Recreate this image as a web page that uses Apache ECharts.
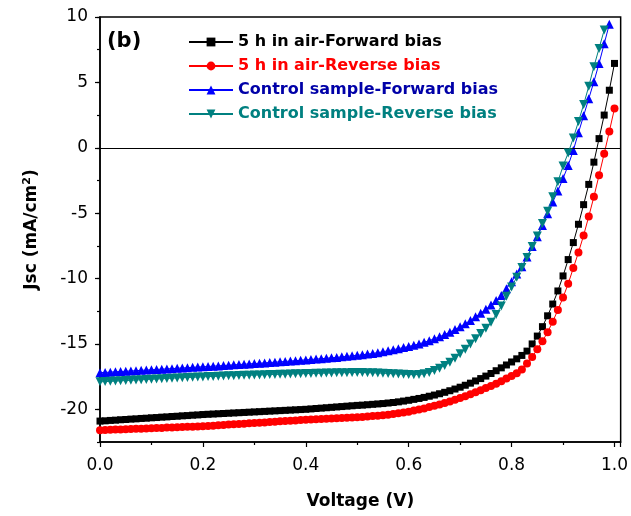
<!DOCTYPE html>
<html><head><meta charset="utf-8">
<script src="https://cdn.jsdelivr.net/npm/echarts@6/dist/echarts.min.js"></script>
<style>html,body{margin:0;padding:0;background:#fff}#c{width:631px;height:516px}</style>
</head><body><div id="c"></div>
<script>
const voltage = [0.00,0.01,0.02,0.03,0.04,0.05,0.06,0.07,0.08,0.09,
0.10,0.11,0.12,0.13,0.14,0.15,0.16,0.17,0.18,0.19,
0.20,0.21,0.22,0.23,0.24,0.25,0.26,0.27,0.28,0.29,
0.30,0.31,0.32,0.33,0.34,0.35,0.36,0.37,0.38,0.39,
0.40,0.41,0.42,0.43,0.44,0.45,0.46,0.47,0.48,0.49,
0.50,0.51,0.52,0.53,0.54,0.55,0.56,0.57,0.58,0.59,
0.60,0.61,0.62,0.63,0.64,0.65,0.66,0.67,0.68,0.69,
0.70,0.71,0.72,0.73,0.74,0.75,0.76,0.77,0.78,0.79,
0.80,0.81,0.82,0.83,0.84,0.85,0.86,0.87,0.88,0.89,
0.90,0.91,0.92,0.93,0.94,0.95,0.96,0.97,0.98,0.99,1.00];

const air5hForward = [-20.90,-20.88,-20.85,-20.83,-20.80,-20.78,-20.75,-20.73,-20.70,-20.68,
-20.65,-20.63,-20.60,-20.58,-20.55,-20.53,-20.50,-20.48,-20.45,-20.43,
-20.40,-20.38,-20.36,-20.34,-20.32,-20.30,-20.28,-20.26,-20.24,-20.22,
-20.20,-20.18,-20.16,-20.14,-20.12,-20.10,-20.08,-20.06,-20.04,-20.02,
-20.00,-19.97,-19.94,-19.91,-19.88,-19.85,-19.82,-19.79,-19.76,-19.73,
-19.70,-19.68,-19.65,-19.62,-19.59,-19.56,-19.52,-19.48,-19.43,-19.37,
-19.31,-19.24,-19.17,-19.09,-19.00,-18.91,-18.81,-18.70,-18.58,-18.45,
-18.31,-18.16,-18.00,-17.83,-17.65,-17.46,-17.26,-17.05,-16.83,-16.61,
-16.38,-16.14,-15.88,-15.55,-15.00,-14.40,-13.68,-12.85,-11.95,-10.95,
-9.80,-8.55,-7.25,-5.85,-4.35,-2.80,-1.10,0.70,2.50,4.40,6.45];

const air5hReverse = [-21.60,-21.58,-21.57,-21.55,-21.54,-21.52,-21.51,-21.49,-21.48,-21.46,
-21.45,-21.43,-21.42,-21.40,-21.39,-21.37,-21.36,-21.34,-21.33,-21.31,
-21.30,-21.27,-21.25,-21.22,-21.20,-21.17,-21.15,-21.12,-21.10,-21.07,
-21.05,-21.02,-21.00,-20.97,-20.95,-20.92,-20.90,-20.87,-20.85,-20.82,
-20.80,-20.78,-20.76,-20.74,-20.72,-20.70,-20.68,-20.66,-20.64,-20.62,
-20.60,-20.58,-20.55,-20.52,-20.49,-20.45,-20.41,-20.36,-20.31,-20.25,
-20.18,-20.10,-20.02,-19.93,-19.83,-19.73,-19.63,-19.52,-19.40,-19.27,
-19.14,-19.00,-18.85,-18.70,-18.54,-18.38,-18.22,-18.05,-17.85,-17.65,
-17.45,-17.25,-16.95,-16.50,-16.00,-15.40,-14.80,-14.10,-13.30,-12.40,
-11.45,-10.40,-9.20,-8.00,-6.70,-5.25,-3.75,-2.10,-0.45,1.25,3.00];

const controlForward = [-17.20,-17.18,-17.16,-17.13,-17.11,-17.09,-17.07,-17.05,-17.02,-17.00,
-16.98,-16.95,-16.93,-16.91,-16.89,-16.86,-16.84,-16.82,-16.79,-16.77,
-16.75,-16.73,-16.70,-16.68,-16.65,-16.63,-16.60,-16.58,-16.55,-16.53,
-16.50,-16.48,-16.45,-16.42,-16.40,-16.37,-16.34,-16.31,-16.28,-16.25,
-16.22,-16.19,-16.16,-16.13,-16.10,-16.06,-16.03,-15.99,-15.95,-15.91,
-15.87,-15.83,-15.78,-15.73,-15.67,-15.60,-15.52,-15.44,-15.36,-15.28,
-15.20,-15.10,-15.00,-14.88,-14.75,-14.60,-14.45,-14.28,-14.10,-13.90,
-13.68,-13.45,-13.20,-12.93,-12.65,-12.35,-12.03,-11.68,-11.30,-10.78,
-10.25,-9.65,-9.10,-8.35,-7.55,-6.80,-5.95,-5.05,-4.15,-3.30,
-2.35,-1.35,-0.20,1.15,2.45,3.75,5.05,6.45,7.95,9.45];

const controlReverse = [-17.90,-17.88,-17.86,-17.84,-17.82,-17.80,-17.78,-17.76,-17.74,-17.72,
-17.70,-17.68,-17.66,-17.64,-17.62,-17.60,-17.58,-17.57,-17.55,-17.53,
-17.52,-17.50,-17.49,-17.47,-17.46,-17.44,-17.43,-17.42,-17.40,-17.39,
-17.38,-17.37,-17.36,-17.34,-17.33,-17.32,-17.31,-17.30,-17.29,-17.28,
-17.27,-17.26,-17.25,-17.24,-17.23,-17.22,-17.21,-17.20,-17.20,-17.19,
-17.19,-17.19,-17.20,-17.21,-17.22,-17.24,-17.26,-17.28,-17.30,-17.32,
-17.34,-17.35,-17.34,-17.28,-17.18,-17.04,-16.86,-16.65,-16.41,-16.10,
-15.75,-15.40,-15.00,-14.60,-14.20,-13.80,-13.35,-12.75,-12.10,-11.35,
-10.65,-9.90,-9.15,-8.40,-7.55,-6.75,-5.80,-4.85,-3.75,-2.60,
-1.40,-0.40,0.75,2.00,3.30,4.70,6.20,7.60,9.00];

const seriesNames = ['5 h in air-Forward bias','5 h in air-Reverse bias','Control sample-Forward bias','Control sample-Reverse bias'];
const xTickLabels = ['0.0','0.2','0.4','0.6','0.8','1.0'];
const yTickValues = [-20,-15,-10,-5,0,5,10];

const FONT = 'DejaVu Sans';
function pairs(ys){ return ys.map((y,i)=>[voltage[i], y]); }

const chart = echarts.init(document.getElementById('c'), null, {renderer:'canvas'});
const option = {
  animation:false,
  backgroundColor:'#fff',
  grid:{left:100, top:17, right:8, bottom:74, show:true, borderColor:'#000', borderWidth:1.5, backgroundColor:'transparent'},
  xAxis:{
    type:'value', min:0, max:1.012, interval:0.2,
    name:'Voltage (V)', nameLocation:'middle', nameGap:51,
    nameTextStyle:{fontFamily:FONT, fontWeight:'bold', fontSize:17, color:'#000'},
    axisLine:{show:true, onZero:false, lineStyle:{color:'#000', width:1.5}},
    axisTick:{show:true, inside:false, length:5, lineStyle:{color:'#000', width:1.2}},
    minorTick:{show:true, splitNumber:2, length:3, lineStyle:{color:'#000', width:1.2}},
    splitLine:{show:false}, minorSplitLine:{show:false},
    axisLabel:{margin:15, fontFamily:FONT, fontSize:17, color:'#000', showMaxLabel:false,
      formatter:v=>{ const s=v.toFixed(1); return xTickLabels.indexOf(s)>=0 && Math.abs(v-parseFloat(s))<1e-6 ? s : ''; }}
  },
  yAxis:[{
    type:'value', min:-22.5, max:10, interval:2.5, position:'left',
    name:'Jsc (mA/cm{sup|2})', nameLocation:'middle', nameGap:58, nameRotate:90,
    nameTextStyle:{fontFamily:FONT, fontWeight:'bold', fontSize:17, color:'#000',
      rich:{sup:{fontFamily:FONT, fontWeight:'bold', fontSize:11, color:'#000', verticalAlign:'top', padding:[0,0,9,0]}}},
    axisLine:{show:true, onZero:false, lineStyle:{color:'#000', width:1.5}},
    axisTick:{show:true, inside:false, length:5, customValues:yTickValues, lineStyle:{color:'#000', width:1.2}},
    splitLine:{show:false},
    axisLabel:{margin:12, fontFamily:FONT, fontSize:17, color:'#000', customValues:yTickValues,
      formatter:v=>{ return yTickValues.indexOf(Math.round(v*100)/100)>=0 ? String(v) : ''; }}
  },{
    type:'value', min:-22.5, max:10, interval:2.5, position:'left', offset:0,
    axisLine:{show:false},
    axisTick:{show:true, inside:false, length:3, lineStyle:{color:'#000', width:1.2}},
    axisLabel:{show:false}, splitLine:{show:false}
  }],
  legend:{
    left:188, top:34, padding:0, orient:'vertical', itemWidth:44, itemHeight:11, itemGap:8,
    textStyle:{fontFamily:FONT, fontWeight:'bold', fontSize:16, lineHeight:16},
    data:[
      {name:seriesNames[0], textStyle:{color:'#000000'}},
      {name:seriesNames[1], textStyle:{color:'#ff0000'}},
      {name:seriesNames[2], textStyle:{color:'#0000a8'}},
      {name:seriesNames[3], textStyle:{color:'#008080'}}
    ]
  },
  graphic:[{type:'text', left:107, top:31, style:{text:'(b)', font:'bold 21px "DejaVu Sans"', fill:'#000'}}],
  series:[
    {name:seriesNames[0], type:'line', yAxisIndex:0, data:pairs(air5hForward), symbol:'rect', symbolSize:7,
      itemStyle:{color:'#000'}, lineStyle:{color:'#000', width:1}, z:2,
      markLine:{silent:true, symbol:'none', label:{show:false}, animation:false,
        lineStyle:{color:'#000', width:1.2, type:'solid'}, data:[{yAxis:0}]}},
    {name:seriesNames[1], type:'line', yAxisIndex:0, data:pairs(air5hReverse), symbol:'circle', symbolSize:8,
      itemStyle:{color:'#ff0000'}, lineStyle:{color:'#ff0000', width:1}, z:3},
    {name:seriesNames[2], type:'line', yAxisIndex:0, data:pairs(controlForward), symbol:'triangle', symbolSize:9,
      itemStyle:{color:'#0000ff'}, lineStyle:{color:'#0000ff', width:1}, z:4},
    {name:seriesNames[3], type:'line', yAxisIndex:0, data:pairs(controlReverse), symbol:'triangle', symbolRotate:180, symbolSize:9,
      itemStyle:{color:'#008080'}, lineStyle:{color:'#008080', width:1}, z:5}
  ]
};
chart.setOption(option);
</script></body></html>
